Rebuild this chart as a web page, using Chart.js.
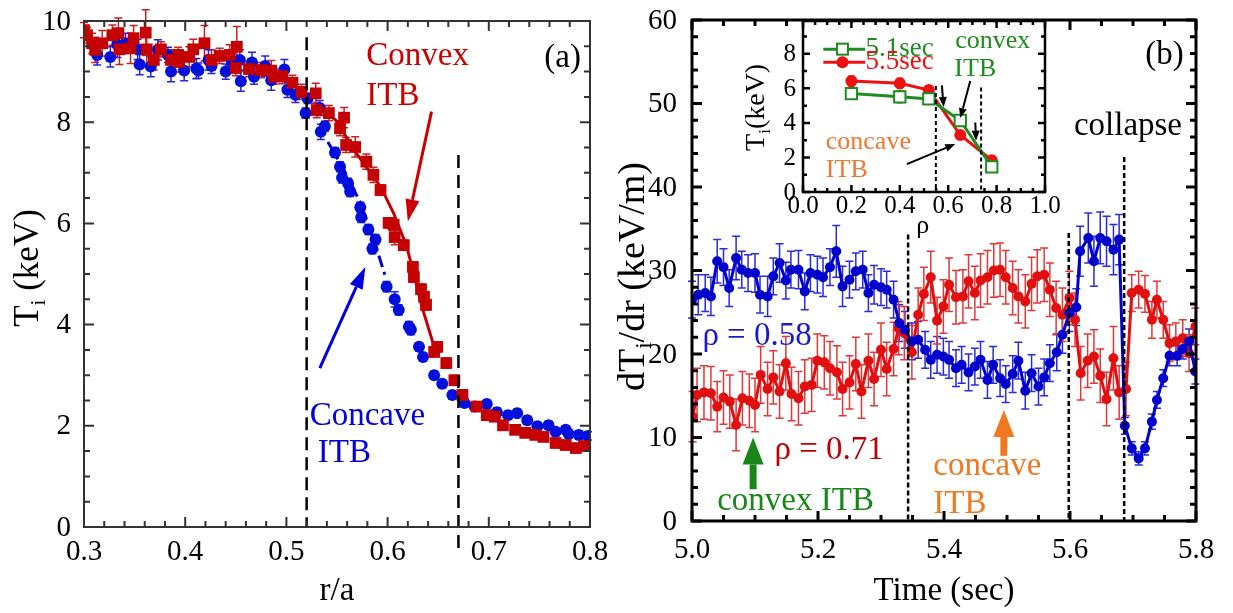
<!DOCTYPE html>
<html><head><meta charset="utf-8">
<script src="https://cdn.jsdelivr.net/npm/chart.js@4.4.1/dist/chart.umd.min.js"></script>
<style>
html,body{margin:0;padding:0;background:#fff;}
#wrap{position:relative;width:1233px;height:613px;overflow:hidden;background:#fff;}
canvas{position:absolute;top:0;}
</style>
</head><body>
<div id="wrap">
<canvas id="ca" width="625" height="613" style="left:0px;width:625px;height:613px"></canvas>
<canvas id="cb" width="633" height="613" style="left:600px;width:633px;height:613px"></canvas>
<canvas id="cc" width="360" height="250" style="left:700px;width:360px;height:250px"></canvas>
</div>
<script>
// ---------- Panel (a): Ti profiles ----------
const aBlueR = [0.313,0.326,0.333,0.341,0.353,0.355,0.366,0.373,0.383,0.386,0.399,0.411,0.413,0.423,0.426,0.440,0.446,0.454,0.455,0.466,0.468,0.479,0.485,0.498,0.501,0.509,0.519,0.521,0.533,0.534,0.538,0.548,0.553,0.555,0.561,0.563,0.573,0.574,0.581,0.585,0.588,0.599,0.607,0.611,0.621,0.623,0.631,0.635,0.646,0.654,0.664,0.676,0.686,0.698,0.708,0.719,0.728,0.738,0.748,0.759,0.766,0.776,0.779,0.789,0.798];
const aBlueT = [9.33,9.29,9.53,9.56,9.44,9.14,9.10,9.43,9.33,9.00,9.02,9.06,9.02,9.23,9.11,9.00,9.20,9.23,8.81,9.18,8.90,9.11,8.83,9.04,8.64,8.54,8.18,8.47,8.28,7.81,7.92,7.40,7.12,6.90,6.79,6.63,6.32,6.12,5.88,5.50,5.68,4.75,4.50,4.29,3.96,3.90,3.56,3.36,3.00,2.83,2.61,2.45,2.38,2.43,2.27,2.21,2.25,2.11,1.99,2.01,1.88,1.92,1.84,1.82,1.80];
const aBlueErr = [0.2,0.2,0.25,0.2,0.2,0.2,0.2,0.2,0.15,0.2,0.2,0.2,0.15,0.2,0.15,0.15,0.15,0.2,0.2,0.2,0.15,0.2,0.2,0.2,0.15,0.15,0.1,0.1,0.15,0.15,0.1,0.1,0.1,0.1,0.1,0.1,0.1,0.1,0.1,0.1,0.1,0.1,0.15,0.1,0.1,0.1,0.08,0.08,0.08,0.08,0.08,0.08,0.08,0.08,0.08,0.08,0.08,0.08,0.08,0.08,0.08,0.08,0.08,0.08,0.08];
const aRedR = [0.300,0.303,0.308,0.311,0.318,0.328,0.334,0.335,0.346,0.349,0.361,0.362,0.369,0.376,0.386,0.393,0.394,0.404,0.408,0.419,0.426,0.434,0.444,0.450,0.451,0.463,0.475,0.485,0.488,0.496,0.506,0.515,0.529,0.530,0.542,0.553,0.557,0.559,0.568,0.579,0.586,0.593,0.601,0.606,0.607,0.616,0.625,0.626,0.633,0.636,0.638,0.646,0.649,0.658,0.666,0.674,0.688,0.698,0.706,0.714,0.726,0.736,0.746,0.754,0.766,0.776,0.786,0.794];
const aRedT = [9.82,9.72,9.56,9.43,9.56,9.72,9.76,9.44,9.46,9.66,9.77,9.44,9.23,9.44,9.23,9.33,9.19,9.29,9.44,9.56,9.23,9.31,9.33,9.07,9.49,9.05,9.03,9.02,8.90,8.91,8.78,8.60,8.57,8.24,8.18,7.88,8.09,7.55,7.51,7.22,6.96,6.66,6.01,5.97,5.73,5.57,5.14,4.94,4.70,4.55,4.39,3.46,3.56,3.24,2.90,2.61,2.38,2.21,2.18,2.01,1.92,1.86,1.82,1.78,1.66,1.62,1.56,1.60];
const aRedErr = [0.15,0.15,0.2,0.25,0.25,0.2,0.3,0.3,0.3,0.25,0.45,0.3,0.2,0.15,0.2,0.15,0.2,0.2,0.2,0.35,0.2,0.15,0.2,0.15,0.4,0.15,0.15,0.2,0.15,0.15,0.15,0.15,0.2,0.15,0.15,0.15,0.2,0.15,0.2,0.15,0.15,0.1,0.1,0.1,0.15,0.1,0.1,0.1,0.1,0.1,0.1,0.1,0.1,0.1,0.1,0.1,0.08,0.08,0.08,0.08,0.08,0.08,0.08,0.08,0.08,0.08,0.08,0.08];
const aRedFitR = [0.538,0.549,0.569,0.593,0.606,0.619,0.629,0.634,0.646];
const aRedFitT = [8.20,8.04,7.39,6.73,6.20,5.54,4.75,4.35,3.56];
const aBlueFitR = [0.541,0.557,0.573,0.586,0.598];
const aBlueFitT = [7.61,7.05,6.41,5.70,4.94];
const aXTicks = [0.3,0.4,0.5,0.6,0.7,0.8];
const aXLabels = ['0.3','0.4','0.5','0.6','0.7','0.8'];
const aYTicks = [0,2,4,6,8,10];
const aYLabels = ['0','2','4','6','8','10'];

// ---------- Panel (b): dTi/dr time traces ----------
const bTimeBlue = [5.000,5.010,5.021,5.030,5.040,5.050,5.059,5.070,5.079,5.089,5.100,5.108,5.120,5.129,5.139,5.149,5.157,5.169,5.179,5.188,5.199,5.208,5.219,5.229,5.239,5.250,5.260,5.271,5.280,5.289,5.300,5.309,5.320,5.329,5.338,5.349,5.359,5.370,5.379,5.389,5.399,5.408,5.419,5.428,5.439,5.449,5.458,5.469,5.478,5.489,5.498,5.509,5.518,5.529,5.539,5.550,5.559,5.568,5.579,5.588,5.599,5.610,5.616,5.629,5.638,5.648,5.658,5.669,5.678,5.687,5.698,5.709,5.719,5.730,5.738,5.748,5.758,5.770,5.779,5.789,5.799];
const bBlue = [26.5,27.1,27.3,26.9,31.1,30.4,27.9,31.5,30.1,29.7,29.7,27.1,26.9,29.3,30.9,28.8,30.1,30.1,27.5,29.7,29.5,29.2,30.4,32.3,28.1,28.9,29.9,30.1,27.3,28.3,28.0,27.7,26.5,23.7,22.9,21.5,21.7,20.5,19.3,19.9,19.7,19.3,18.3,18.7,17.8,18.5,19.3,16.9,18.7,17.1,16.4,17.6,19.2,15.6,17.7,16.1,17.2,18.9,20.2,22.3,24.9,25.6,32.3,33.9,31.1,33.9,33.5,32.5,33.7,11.4,8.7,7.5,8.7,11.9,14.5,17.1,19.8,19.8,20.6,21.5,17.9];
const bBlueErr = [2.2,2.4,2.2,2.3,2.6,2.2,2.2,2.6,2.2,2.2,2.3,2.2,2.4,2.2,2.3,2.2,2.2,2.3,2.2,2.2,2.2,2.3,2.2,3.1,2.4,2.2,2.2,2.2,2.2,2.3,2.2,2.2,2.2,2.2,2.2,2.2,2.2,2.2,2.2,2.2,2.2,2.2,2.2,2.2,2.2,2.2,2.2,2.2,2.2,2.2,2.2,2.2,2.2,2.2,2.2,2.2,2.2,2.2,2.2,2.2,2.2,2.2,3.0,3.0,3.0,3.1,3.0,3.0,3.0,1.0,0.8,0.8,0.8,0.9,1.0,1.0,1.2,1.2,1.2,1.5,1.5];
const bTimeRed = [5.001,5.008,5.019,5.030,5.040,5.050,5.060,5.070,5.080,5.091,5.100,5.109,5.120,5.129,5.139,5.149,5.158,5.169,5.179,5.190,5.199,5.210,5.219,5.230,5.239,5.250,5.260,5.269,5.280,5.289,5.300,5.309,5.320,5.328,5.337,5.349,5.359,5.368,5.379,5.389,5.399,5.408,5.419,5.430,5.439,5.449,5.458,5.469,5.479,5.489,5.498,5.509,5.518,5.529,5.539,5.548,5.559,5.568,5.578,5.588,5.599,5.608,5.617,5.628,5.638,5.648,5.658,5.669,5.678,5.689,5.698,5.709,5.719,5.730,5.738,5.748,5.758,5.768,5.779,5.789,5.799];
const bRed = [12.5,15.1,15.4,15.3,13.7,14.8,14.3,11.5,14.7,14.4,13.9,17.5,15.8,17.2,15.5,18.9,15.2,14.7,16.1,16.3,19.2,19.0,18.3,17.8,15.8,16.6,18.8,15.5,19.2,17.0,20.5,18.2,20.6,23.1,22.5,20.2,24.7,27.2,29.2,24.0,25.7,28.3,26.8,26.9,28.7,27.3,28.8,29.2,30.0,30.1,29.2,27.9,26.9,26.3,28.4,29.3,29.5,27.7,25.5,24.7,26.7,24.1,17.7,19.2,19.7,17.4,14.6,19.5,15.4,15.8,27.3,27.7,27.2,24.1,26.5,24.1,21.3,21.5,21.9,20.1,23.3];
const bRedErr = [3.0,3.2,3.2,3.2,3.0,3.2,3.2,3.1,3.2,3.2,3.2,3.4,3.2,3.2,3.2,3.2,3.2,3.2,3.2,3.2,3.2,3.2,3.2,3.2,3.2,3.2,3.2,3.2,3.2,3.2,3.2,3.2,3.2,3.2,3.2,3.2,3.2,3.2,3.1,2.8,3.2,3.2,3.2,3.2,3.2,3.2,3.2,3.2,3.2,3.2,3.2,3.2,3.2,3.2,3.2,3.2,3.2,3.2,3.2,3.2,3.2,3.2,3.2,3.2,3.2,3.2,3.2,3.8,3.2,3.2,2.2,2.2,2.2,2.2,2.2,2.2,2.2,2.2,2.2,2.2,2.2];
const bXTicks = [5.0,5.2,5.4,5.6,5.8];
const bXLabels = ['5.0','5.2','5.4','5.6','5.8'];
const bYTicks = [0,10,20,30,40,50,60];
const bYLabels = ['0','10','20','30','40','50','60'];

// ---------- Inset: Ti(rho) at two times ----------
const insetRho = [0.2,0.4,0.52,0.65,0.78];
const inset51 = [5.70,5.51,5.39,4.14,1.45];
const inset51Err = [0.2,0.35,0.2,0.15,0.1];
const inset55 = [6.42,6.29,5.90,3.30,1.84];
const inset55Err = [0.3,0.3,0.25,0.1,0.1];
const insetXTicks = [0,0.2,0.4,0.6,0.8,1.0];
const insetXLabels = ['0.0','0.2','0.4','0.6','0.8','1.0'];
const insetYTicks = [0,2,4,6,8];
const insetYLabels = ['0','2','4','6','8'];

// ---------- helpers ----------
const FAM = "'Liberation Serif', 'Times New Roman', serif";
Chart.defaults.font.family = FAM;
const pts = (xs, ys) => xs.map((x, i) => ({x: x, y: ys[i]}));

const errPlugin = {
  id: 'errbars',
  beforeDatasetsDraw(chart) {
    const ctx = chart.ctx;
    chart.data.datasets.forEach((ds, di) => {
      if (!ds.errors) return;
      const meta = chart.getDatasetMeta(di);
      const xs = chart.scales[meta.xAxisID], ys = chart.scales[meta.yAxisID];
      ctx.save();
      ctx.strokeStyle = ds.errColor; ctx.lineWidth = ds.errWidth || 1.5; ctx.setLineDash([]);
      ctx.beginPath();
      ds.data.forEach((p, i) => {
        const e = ds.errors[i]; if (!e) return;
        const px = xs.getPixelForValue(p.x);
        const y1 = ys.getPixelForValue(p.y + e), y2 = ys.getPixelForValue(p.y - e);
        const c = ds.capHalf || 4;
        ctx.moveTo(px, y1); ctx.lineTo(px, y2);
        ctx.moveTo(px - c, y1); ctx.lineTo(px + c, y1);
        ctx.moveTo(px - c, y2); ctx.lineTo(px + c, y2);
      });
      ctx.stroke(); ctx.restore();
    });
  }
};

// frame with inward major/minor ticks on all four sides, plus tick labels taken from the scales' ticks
function drawFrame(chart, o) {
  const ctx = chart.ctx, a = chart.chartArea, xs = chart.scales.x, ys = chart.scales.y;
  ctx.save(); ctx.strokeStyle = o.color; ctx.lineWidth = o.lw; ctx.setLineDash([]);
  ctx.beginPath();
  const nx = Math.floor((xs.max - xs.min) / o.xMinor + 1e-6);
  for (let i = 0; i <= nx; i++) {
    const v = xs.min + i * o.xMinor; const r = v / o.xMajor;
    const L = Math.abs(r - Math.round(r)) < 1e-6 ? o.maj : o.min;
    const p = xs.getPixelForValue(v);
    ctx.moveTo(p, a.bottom); ctx.lineTo(p, a.bottom - L);
    ctx.moveTo(p, a.top); ctx.lineTo(p, a.top + L);
  }
  const ny = Math.floor((ys.max - ys.min) / o.yMinor + 1e-6);
  for (let i = 0; i <= ny; i++) {
    const v = ys.min + i * o.yMinor; const r = v / o.yMajor;
    const L = Math.abs(r - Math.round(r)) < 1e-6 ? o.maj : o.min;
    const p = ys.getPixelForValue(v);
    ctx.moveTo(a.left, p); ctx.lineTo(a.left + L, p);
    ctx.moveTo(a.right, p); ctx.lineTo(a.right - L, p);
  }
  ctx.stroke();
  ctx.strokeRect(a.left, a.top, a.right - a.left, a.bottom - a.top);
  ctx.restore();
  // tick labels
  ctx.save(); ctx.fillStyle = '#000'; ctx.font = o.fs + 'px ' + FAM; ctx.textBaseline = 'middle';
  ctx.textAlign = 'center';
  xs.ticks.forEach((t, i) => ctx.fillText(o.xLabels[i], xs.getPixelForValue(t.value), a.bottom + o.xOff));
  ctx.textAlign = 'right';
  ys.ticks.forEach((t, i) => ctx.fillText(o.yLabels[i], a.left - o.yOff, ys.getPixelForValue(t.value) + 1));
  ctx.restore();
}
function txt(ctx, s, x, y, size, color, align) {
  ctx.save(); ctx.font = size + 'px ' + FAM; ctx.fillStyle = color;
  ctx.textAlign = align || 'left'; ctx.textBaseline = 'middle'; ctx.fillText(s, x, y); ctx.restore();
}
function subTitle(ctx, parts, cx, cy, size, rot) {
  ctx.save(); ctx.translate(cx, cy); if (rot) ctx.rotate(-Math.PI / 2);
  ctx.fillStyle = '#000'; ctx.textBaseline = 'middle'; ctx.textAlign = 'left';
  const sub = Math.round(size * 0.6);
  let total = 0;
  parts.forEach(p => { ctx.font = (p[1] ? sub : size) + 'px ' + FAM; total += ctx.measureText(p[0]).width; });
  let x = -total / 2;
  parts.forEach(p => {
    ctx.font = (p[1] ? sub : size) + 'px ' + FAM;
    ctx.fillText(p[0], x, p[1] ? size * 0.3 : 0);
    x += ctx.measureText(p[0]).width;
  });
  ctx.restore();
}
function arrow(ctx, x1, y1, x2, y2, color, lw, hl, hw) {
  const ang = Math.atan2(y2 - y1, x2 - x1);
  const bx = x2 - hl * Math.cos(ang), by = y2 - hl * Math.sin(ang);
  ctx.save(); ctx.strokeStyle = color; ctx.fillStyle = color; ctx.lineWidth = lw; ctx.lineCap = 'butt'; ctx.setLineDash([]);
  ctx.beginPath(); ctx.moveTo(x1, y1); ctx.lineTo(bx, by); ctx.stroke();
  const px = -Math.sin(ang), py = Math.cos(ang);
  ctx.beginPath(); ctx.moveTo(x2, y2);
  ctx.lineTo(bx + px * hw / 2, by + py * hw / 2); ctx.lineTo(bx - px * hw / 2, by - py * hw / 2);
  ctx.closePath(); ctx.fill(); ctx.restore();
}
function vdash(ctx, x, y1, y2, lw, dash) {
  ctx.save(); ctx.strokeStyle = '#000'; ctx.lineWidth = lw; ctx.setLineDash(dash);
  ctx.beginPath(); ctx.moveTo(x, y1); ctx.lineTo(x, y2); ctx.stroke(); ctx.restore();
}
function axisCfg(min, max, ticksArr, fitProp, fitVal) {
  return {
    type: 'linear', min: min, max: max,
    grid: {display: false, drawTicks: false}, border: {display: false},
    afterBuildTicks: s => { s.ticks = ticksArr.map(v => ({value: v})); },
    afterFit: s => { s[fitProp] = fitVal; s.paddingLeft = 0; s.paddingRight = 0; s.paddingTop = 0; s.paddingBottom = 0; },
    ticks: {display: false}
  };
}
const baseOpts = {responsive: false, animation: false, devicePixelRatio: 1, events: [],
  plugins: {legend: {display: false}, tooltip: {enabled: false}, title: {display: false}}};

// ---------- Chart A ----------
const decoA = {
  id: 'decoA',
  afterDraw(chart) {
    const ctx = chart.ctx, a = chart.chartArea, X = v => chart.scales.x.getPixelForValue(v), Y = v => chart.scales.y.getPixelForValue(v);
    vdash(ctx, X(0.52), Y(9.68), Y(0), 2.5, [13, 7]);
    vdash(ctx, X(0.67), Y(7.35), Y(-0.55), 2.5, [13, 7]);
    drawFrame(chart, {color: '#333', lw: 2, xMinor: 0.02, xMajor: 0.1, yMinor: 0.5, yMajor: 2, maj: 10, min: 6,
      fs: 29, xLabels: aXLabels, yLabels: aYLabels, xOff: 25, yOff: 13});
    txt(ctx, 'Convex', X(0.579), Y(9.31), 33, '#CC0000', 'left');
    txt(ctx, 'ITB', X(0.579), Y(8.52), 33, '#CC0000', 'left');
    txt(ctx, '(a)', X(0.773), Y(9.27), 33, '#000', 'center');
    txt(ctx, 'Concave', X(0.523), Y(2.18), 33, '#0000DD', 'left');
    txt(ctx, 'ITB', X(0.531), Y(1.46), 33, '#0000DD', 'left');
    arrow(ctx, X(0.6434), Y(8.21), X(0.620), Y(6.04), '#CC0000', 3, 22, 14);
    arrow(ctx, X(0.533), Y(3.14), X(0.578), Y(5.14), '#0000DD', 3, 22, 14);
    subTitle(ctx, [['r/a', 0]], (a.left + a.right) / 2, a.bottom + 64, 33, false);
    subTitle(ctx, [['T', 0], ['i', 1], [' (keV)', 0]], a.left - 55, (a.top + a.bottom) / 2 - 6, 35, true);
  }
};
new Chart(document.getElementById('ca'), {
  type: 'scatter',
  data: {datasets: [
    {label: 'Convex fit', data: pts(aRedFitR, aRedFitT), showLine: true, borderColor: '#C40000', borderWidth: 3, pointRadius: 0, order: 1},
    {label: 'Concave fit', data: pts(aBlueFitR, aBlueFitT), showLine: true, borderColor: '#0000DD', borderWidth: 3, borderDash: [12, 5, 3, 5], pointRadius: 0, order: 2},
    {label: 'Convex ITB', data: pts(aRedR, aRedT), errors: aRedErr, errColor: '#CC2020', capHalf: 4,
      showLine: false, pointStyle: 'rect', pointRadius: 8.3, pointBackgroundColor: '#C40000', pointBorderWidth: 0, order: 3},
    {label: 'Concave ITB', data: pts(aBlueR, aBlueT), errors: aBlueErr, errColor: '#2525E0', capHalf: 4,
      showLine: false, pointStyle: 'circle', pointRadius: 6, pointBackgroundColor: '#0010DD', pointBorderWidth: 0, order: 4}
  ]},
  options: Object.assign({}, baseOpts, {
    layout: {padding: {left: 0, right: 35, top: 21, bottom: 0}},
    scales: {
      x: axisCfg(0.3, 0.8, aXTicks, 'height', 86),
      y: axisCfg(0, 10, aYTicks, 'width', 84)
    }
  }),
  plugins: [errPlugin, decoA]
});

// ---------- Chart B ----------
const decoB = {
  id: 'decoB',
  afterDraw(chart) {
    const ctx = chart.ctx, a = chart.chartArea, X = v => chart.scales.x.getPixelForValue(v), Y = v => chart.scales.y.getPixelForValue(v);
    vdash(ctx, X(5.343), Y(34.3), Y(0), 2.5, [5, 3]);
    vdash(ctx, X(5.598), Y(34.5), Y(0), 2.5, [5, 3]);
    vdash(ctx, X(5.686), Y(43.6), Y(0), 2.5, [5, 3]);
    drawFrame(chart, {color: '#000', lw: 3, xMinor: 0.05, xMajor: 0.2, yMinor: 2, yMajor: 10, maj: 10, min: 6,
      fs: 29, xLabels: bXLabels, yLabels: bYLabels, xOff: 29, yOff: 15});
    txt(ctx, '(b)', X(5.75), Y(55.8), 33, '#000', 'center');
    txt(ctx, 'collapse', X(5.692), Y(47.3), 33, '#000', 'center');
    txt(ctx, '\u03c1 = 0.58', X(5.0165), Y(22.1), 33, '#1A1ACC', 'left');
    txt(ctx, '\u03c1 = 0.71', X(5.131), Y(8.5), 33, '#C00000', 'left');
    txt(ctx, 'convex ITB', X(5.040), Y(2.3), 33, '#1A861A', 'left');
    txt(ctx, 'concave', X(5.383), Y(6.5), 33, '#F07820', 'left');
    txt(ctx, 'ITB', X(5.383), Y(2.0), 33, '#F07820', 'left');
    arrow(ctx, X(5.097), Y(3.8), X(5.097), Y(10.0), '#1A861A', 7, 27, 21);
    arrow(ctx, X(5.495), Y(7.8), X(5.495), Y(13.3), '#F07820', 7, 27, 21);
    subTitle(ctx, [['Time (sec)', 0]], (a.left + a.right) / 2, a.bottom + 70, 33, false);
    subTitle(ctx, [['dT', 0], ['i', 1], ['/dr (keV/m)', 0]], a.left - 58, (a.top + a.bottom) / 2 + 6, 38, true);
  }
};
new Chart(document.getElementById('cb'), {
  type: 'scatter',
  data: {datasets: [
    {label: 'rho = 0.58', data: pts(bTimeBlue, bBlue), errors: bBlueErr, errColor: '#2A2AE0', capHalf: 4,
      showLine: true, borderColor: '#0000CC', borderWidth: 3, pointRadius: 5, pointBackgroundColor: '#0000CC', pointBorderWidth: 0, order: 1},
    {label: 'rho = 0.71', data: pts(bTimeRed, bRed), errors: bRedErr, errColor: '#E23838', capHalf: 4,
      showLine: true, borderColor: '#E01010', borderWidth: 3, pointRadius: 5, pointBackgroundColor: '#E01010', pointBorderWidth: 0, order: 2}
  ]},
  options: Object.assign({}, baseOpts, {
    layout: {padding: {left: 0, right: 37, top: 20, bottom: 0}},
    scales: {
      x: axisCfg(5.0, 5.8, bXTicks, 'height', 92),
      y: axisCfg(0, 60, bYTicks, 'width', 92)
    }
  }),
  plugins: [errPlugin, decoB]
});

// ---------- Inset ----------
const decoC = {
  id: 'decoC',
  beforeDraw(chart) {
    const ctx = chart.ctx, a = chart.chartArea;
    ctx.save(); ctx.fillStyle = '#fff'; ctx.fillRect(a.left, a.top, a.right - a.left, a.bottom - a.top); ctx.restore();
  },
  afterDraw(chart) {
    const ctx = chart.ctx, a = chart.chartArea, X = v => chart.scales.x.getPixelForValue(v), Y = v => chart.scales.y.getPixelForValue(v);
    vdash(ctx, X(0.549), Y(6.13), Y(0), 2, [4, 3]);
    vdash(ctx, X(0.736), Y(6.05), Y(0), 2, [4, 3]);
    drawFrame(chart, {color: '#000', lw: 2.5, xMinor: 0.05, xMajor: 0.2, yMinor: 1, yMajor: 2, maj: 7, min: 4,
      fs: 25, xLabels: insetXLabels, yLabels: insetYLabels, xOff: 14, yOff: 7});
    // legend
    ctx.save(); ctx.lineWidth = 3;
    ctx.strokeStyle = '#1E8C1E'; ctx.beginPath(); ctx.moveTo(X(0.084), Y(8.27)); ctx.lineTo(X(0.257), Y(8.27)); ctx.stroke();
    ctx.fillStyle = '#fff'; ctx.lineWidth = 2; ctx.fillRect(X(0.163) - 5.5, Y(8.27) - 5.5, 11, 11); ctx.strokeRect(X(0.163) - 5.5, Y(8.27) - 5.5, 11, 11);
    ctx.lineWidth = 3; ctx.strokeStyle = '#EE1111'; ctx.beginPath(); ctx.moveTo(X(0.084), Y(7.51)); ctx.lineTo(X(0.257), Y(7.51)); ctx.stroke();
    ctx.fillStyle = '#EE1111'; ctx.beginPath(); ctx.arc(X(0.163), Y(7.51), 6, 0, Math.PI * 2); ctx.fill();
    ctx.restore();
    txt(ctx, '5.1sec', X(0.258), Y(8.27), 27, '#1E8C1E', 'left');
    txt(ctx, '5.5sec', X(0.258), Y(7.51), 27, '#EE1111', 'left');
    txt(ctx, 'convex', X(0.784), Y(8.76), 26, '#1E8C1E', 'center');
    txt(ctx, 'ITB', X(0.712), Y(7.1), 26, '#1E8C1E', 'center');
    txt(ctx, 'concave', X(0.270), Y(2.91), 26, '#F07830', 'center');
    txt(ctx, 'ITB', X(0.181), Y(1.26), 26, '#F07830', 'center');
    arrow(ctx, X(0.691), Y(6.42), X(0.650), Y(4.28), '#000', 2, 10, 8);
    arrow(ctx, X(0.574), Y(6.17), X(0.581), Y(4.92), '#000', 2, 10, 8);
    arrow(ctx, X(0.712), Y(4.02), X(0.715), Y(2.97), '#000', 2, 10, 8);
    arrow(ctx, X(0.429), Y(1.61), X(0.629), Y(2.78), '#000', 2, 10, 8);
    subTitle(ctx, [['\u03c1', 0]], X(0.495), a.bottom + 34, 26, false);
    subTitle(ctx, [['T', 0], ['i', 1], ['(keV)', 0]], a.left - 46, Y(4.9), 28, true);
  }
};
new Chart(document.getElementById('cc'), {
  type: 'scatter',
  data: {datasets: [
    {label: '5.1sec', data: pts(insetRho, inset51), errors: inset51Err, errColor: '#1E8C1E', capHalf: 3,
      showLine: true, borderColor: '#1E8C1E', borderWidth: 3, pointStyle: 'rect', pointRadius: 8, pointBackgroundColor: '#fff', pointBorderColor: '#1E8C1E', pointBorderWidth: 2, order: 1},
    {label: '5.5sec', data: pts(insetRho, inset55), errors: inset55Err, errColor: '#EE1111', capHalf: 3,
      showLine: true, borderColor: '#EE1111', borderWidth: 3, pointStyle: 'circle', pointRadius: 6, pointBackgroundColor: '#EE1111', pointBorderWidth: 0, order: 2}
  ]},
  options: Object.assign({}, baseOpts, {
    layout: {padding: {left: 0, right: 15, top: 21, bottom: 0}},
    scales: {
      x: axisCfg(0, 1.0, insetXTicks, 'height', 58),
      y: axisCfg(0, 9.9, insetYTicks, 'width', 103)
    }
  }),
  plugins: [errPlugin, decoC]
});
</script>
</body></html>
